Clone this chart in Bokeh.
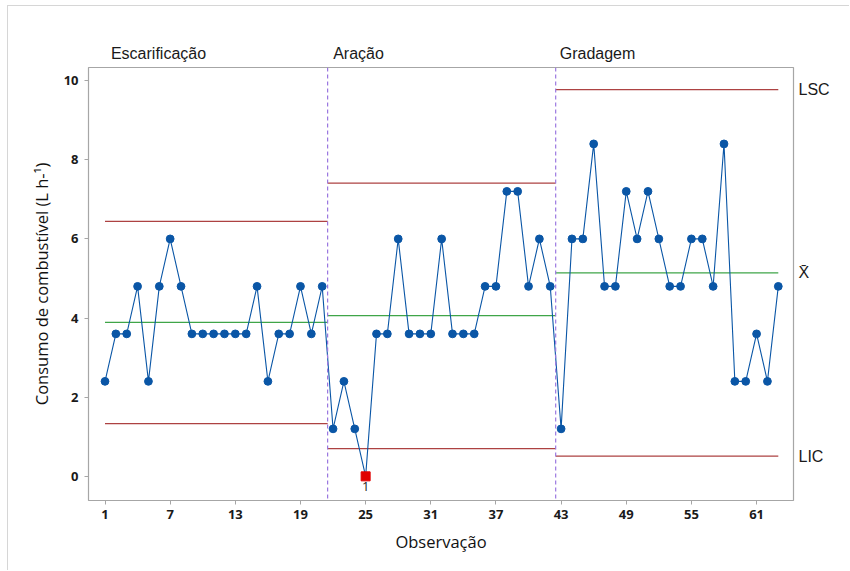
from bokeh.plotting import figure
from bokeh.models import Span, FixedTicker, Range1d, ColumnDataSource, LinearAxis
from bokeh.core.properties import value
from bokeh.embed import file_html
from bokeh.resources import INLINE

# Fuel consumption (L/h) per observation, three soil-preparation stages
observacao = list(range(1, 64))
consumo = [
    # Escarificação (1-21)
    2.4, 3.6, 3.6, 4.8, 2.4, 4.8, 6.0, 4.8, 3.6, 3.6, 3.6,
    3.6, 3.6, 3.6, 4.8, 2.4, 3.6, 3.6, 4.8, 3.6, 4.8,
    # Aração (22-42)
    1.2, 2.4, 1.2, 0.0, 3.6, 3.6, 6.0, 3.6, 3.6, 3.6, 6.0,
    3.6, 3.6, 3.6, 4.8, 4.8, 7.2, 7.2, 4.8, 6.0, 4.8,
    # Gradagem (43-63)
    1.2, 6.0, 6.0, 8.4, 4.8, 4.8, 7.2, 6.0, 7.2, 6.0, 4.8,
    4.8, 6.0, 6.0, 4.8, 8.4, 2.4, 2.4, 3.6, 2.4, 4.8,
]

etapas = ["Escarificação", "Aração", "Gradagem"]
etapa_inicio = [1, 21.5, 42.5]
etapa_fim = [21.5, 42.5, 63]
divisorias = [21.5, 42.5]

lsc = [6.44, 7.41, 9.77]
media = [3.89, 4.06, 5.14]
lic = [1.33, 0.70, 0.51]
rotulos_limites = ["LSC", "X\u0304", "LIC"]

# point flagged by test 1 (beyond control limits)
fora_x = [25]
fora_y = [0.0]
fora_txt = ["1"]

x_ticks = [1, 7, 13, 19, 25, 31, 37, 43, 49, 55, 61]
y_ticks = [0, 2, 4, 6, 8, 10]

AZUL = "#0A56A6"
VERMELHO_LIM = "#AD4242"
VERDE = "#3FA548"
ROXO = "#9B78E0"
CINZA = "#A6A6A6"
FONTE = "Open Sans"
FONTE2 = "Liberation Sans"

X0, X1 = -0.52, 64.4
Y0, Y1 = -0.61, 10.33

p = figure(
    width=842, height=565,
    x_range=Range1d(X0, X1), y_range=Range1d(Y0, Y1),
    output_backend="svg", toolbar_location=None,
    min_border_left=80, min_border_right=57, min_border_top=61, min_border_bottom=71,
)
p.margin = (5, 0, 0, 7)
p.styles = {"border-top": "1px solid #d6d6d6", "border-left": "1px solid #d6d6d6"}

eixo_x = p.below[0]
eixo_y = p.left[0]

p.grid.visible = False
p.outline_line_color = CINZA
p.outline_line_width = 1.2
p.background_fill_color = "white"
p.border_fill_color = "white"

# stage dividers
for d in divisorias:
    p.add_layout(Span(location=d, dimension="height", line_color=ROXO,
                      line_dash="4 3", line_width=1.2))

# control limits and centre lines per stage
p.segment(x0=etapa_inicio, x1=etapa_fim, y0=lsc, y1=lsc, line_color=VERMELHO_LIM, line_width=1.3)
p.segment(x0=etapa_inicio, x1=etapa_fim, y0=lic, y1=lic, line_color=VERMELHO_LIM, line_width=1.3)
p.segment(x0=etapa_inicio, x1=etapa_fim, y0=media, y1=media, line_color=VERDE, line_width=1.3)

# individual observations
src = ColumnDataSource(dict(x=observacao, y=consumo))
p.line("x", "y", source=src, line_color=AZUL, line_width=1.1)
normais = ColumnDataSource(dict(
    x=[o for o in observacao if o not in fora_x],
    y=[c for o, c in zip(observacao, consumo) if o not in fora_x],
))
p.scatter("x", "y", source=normais, size=7.8, marker="circle",
          fill_color=AZUL, line_color=AZUL)
p.scatter(fora_x, fora_y, size=9, marker="square", fill_color="#E00000", line_color="#E00000")

# test number just under the flagged point
marca = ColumnDataSource(dict(x=fora_x, y=[v - 0.14 for v in fora_y], t=fora_txt))
p.text(x="x", y="y", text="t", source=marca, text_align="center", text_baseline="top",
       text_font_size="13px", text_font=value(FONTE), text_color="#222222")

# stage titles: an axis above the frame, measured in frame pixels
p.extra_x_ranges = {"px": Range1d(88, 793)}
centros_titulo = [158, 358, 597]
eixo_etapas = LinearAxis(
    x_range_name="px",
    ticker=FixedTicker(ticks=centros_titulo),
    major_label_overrides={c: n for c, n in zip(centros_titulo, etapas)},
)
p.add_layout(eixo_etapas, "above")

# limit labels on the right, placed on the last stage's values
pos_limites = [lsc[-1], media[-1], lic[-1]]
eixo_limites = LinearAxis(
    ticker=FixedTicker(ticks=pos_limites),
    major_label_overrides={v: t for v, t in zip(pos_limites, rotulos_limites)},
)
p.add_layout(eixo_limites, "right")

for ax in (eixo_etapas, eixo_limites):
    ax.axis_line_color = None
    ax.major_tick_line_color = None
    ax.minor_tick_line_color = None
    ax.major_tick_in = 0
    ax.major_tick_out = 0
    ax.major_label_text_font = FONTE2
    ax.major_label_text_font_size = "16px"
    ax.major_label_text_color = "#1a1a1a"
eixo_etapas.major_label_standoff = 6
eixo_limites.major_label_standoff = 5

# main axes
eixo_x.ticker = FixedTicker(ticks=x_ticks)
eixo_y.ticker = FixedTicker(ticks=y_ticks)
for ax in (eixo_x, eixo_y):
    ax.axis_line_color = None
    ax.major_tick_line_color = CINZA
    ax.major_tick_in = 0
    ax.major_tick_out = 4
    ax.minor_tick_line_color = None
    ax.major_label_text_font = FONTE
    ax.major_label_text_font_style = "bold"
    ax.major_label_text_font_size = "13px"
    ax.major_label_text_color = "#1a1a1a"
    ax.axis_label_text_font = FONTE
    ax.axis_label_text_font_style = "normal"
    ax.axis_label_text_font_size = "16.5px"
    ax.axis_label_text_color = "#111111"

eixo_x.axis_label = "Observação"
eixo_y.axis_label = "Consumo de combustível (L h-¹)"
eixo_x.major_label_standoff = 5
eixo_x.axis_label_standoff = 8
eixo_y.major_label_standoff = 6
eixo_y.axis_label_standoff = 8

open("out.html", "w").write(file_html(p, INLINE))
